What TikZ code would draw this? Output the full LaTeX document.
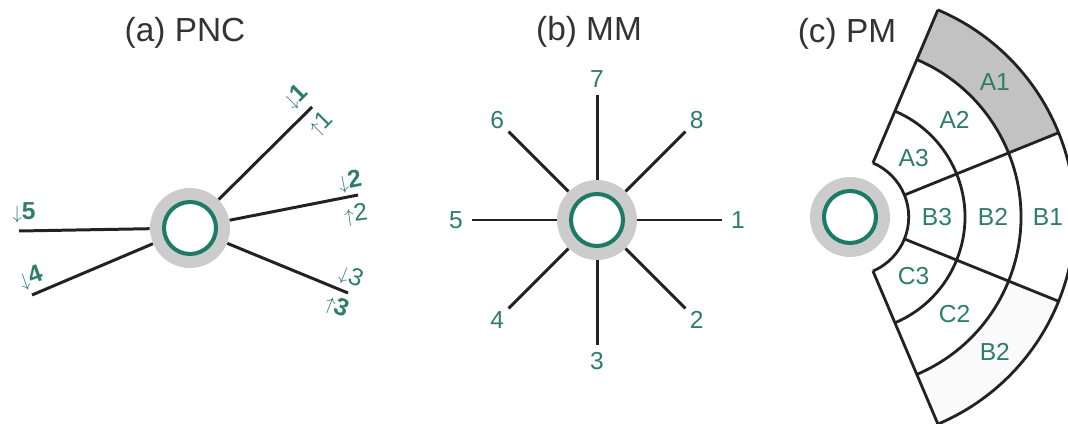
\documentclass[tikz,border=0pt]{standalone}
\usepackage{fontspec}
\setmainfont{Liberation Sans}
\usepackage{tikz}
\usetikzlibrary{calc}
\definecolor{labgreen}{RGB}{46,125,108}
\definecolor{ringgreen}{RGB}{28,122,102}
\definecolor{hubgray}{RGB}{204,204,204}
\definecolor{titlegray}{RGB}{51,51,51}
\definecolor{linedark}{RGB}{34,34,34}
\newcommand{\dnar}{{\fontsize{11}{11}\selectfont$\downarrow$}}
\newcommand{\upar}{{\fontsize{11}{11}\selectfont$\uparrow$}}

\begin{document}
\begin{tikzpicture}[x=0.02cm, y=0.02cm,
  hub/.style={circle, fill=hubgray, minimum size=1.6cm, inner sep=0pt,
    path picture={\draw[ringgreen, line width=2.3pt, fill=white] (path picture bounding box.center) circle (0.52cm);}},
  spoke/.style={draw=linedark, line width=1.7pt},
  wall/.style={draw=linedark, line width=1.6pt},
  ttl/.style={text=titlegray, font=\fontsize{19}{22}\selectfont, inner sep=0pt},
  lab/.style={text=labgreen, font=\fontsize{14}{16}\selectfont, inner sep=0pt},
  alab/.style={text=labgreen, font=\fontsize{14}{16}\selectfont, inner sep=0pt}]
\useasboundingbox (0,0) rectangle (1068,423);
\node[ttl] (ta) at (185,390) {(a) PNC};
\node[ttl] (tb) at (589,391) {(b) MM};
\node[ttl] (tc) at (847,389) {(c) PM};
\node[hub] (hubA) at (190,195) {};
\coordinate (a1) at (312,316);
\coordinate (a2) at (358,228);
\coordinate (a3) at (348,130);
\coordinate (a4) at (32,128);
\coordinate (a5) at (19,192);
\foreach \e in {a1,a2,a3,a4,a5} \draw[spoke] (hubA) -- (\e);
\node[alab, rotate=45] (la1t) at (296,326) {\bfseries\dnar1};
\node[alab, rotate=45] (la1b) at (321,299) {\upar1};
\node[alab, rotate=11] (la2t) at (350,241) {\bfseries\dnar2};
\node[alab, rotate=8] (la2b) at (356,208) {\upar2};
\node[alab, rotate=-22] (la3t) at (351,146) {\dnar3};
\node[alab, rotate=-22] (la3b) at (337,116) {\bfseries\upar3};
\node[alab, rotate=20] (la4) at (31,145) {\bfseries\dnar4};
\node[alab] (la5) at (24,210) {\bfseries\dnar5};
\node[hub] (hubB) at (597,203) {};
\foreach \k/\a in {1/0, 2/-45, 3/-90, 4/-135, 5/180, 6/135, 7/90, 8/45} {
  \coordinate (b\k) at ($(hubB)+(\a:125)$);
  \draw[spoke] (hubB) -- (b\k);
  \node[lab] (lb\k) at ($(hubB)+(\a:141)$) {\k};
}
\node[hub] (hubC) at (850,206) {};
\fill[hubgray!95!black] ($(hubC)+(22:171)$) arc[start angle=22, end angle=67, radius=171]
  -- ($(hubC)+(67:225)$) arc[start angle=67, end angle=22, radius=225] -- cycle;
\fill[black!2] ($(hubC)+(-67:171)$) arc[start angle=-67, end angle=-22, radius=171]
  -- ($(hubC)+(-22:225)$) arc[start angle=-22, end angle=-67, radius=225] -- cycle;
\foreach \r in {58.7,115,171,225}
  \draw[wall] ($(hubC)+(-67:\r)$) arc[start angle=-67, end angle=67, radius=\r];
\foreach \a in {-67,-22,22,67}
  \draw[wall] ($(hubC)+(\a:58.7)$) -- ($(hubC)+(\a:225)$);
\foreach \n/\a/\r in {A1/43/198, A2/43/143, A3/43/87, B1/0/198, B2/0/143, B3/0/87,
  B2/-43/198, C2/-43/143, C3/-43/87}
  \node[lab] at ($(hubC)+(\a:\r)$) {\n};
\end{tikzpicture}
\end{document}
